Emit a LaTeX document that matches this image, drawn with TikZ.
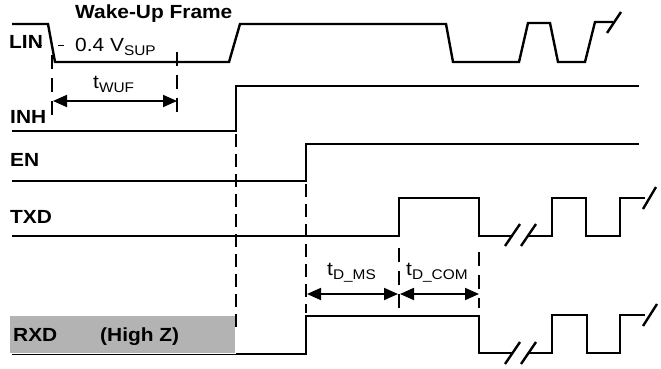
\documentclass[tikz,border=0pt]{standalone}
\usepackage{fontspec}
\setmainfont{Liberation Sans}[FakeStretch=1.1]
\usetikzlibrary{arrows.meta}
\newcommand{\lblfont}{\fontsize{19}{22}\selectfont\bfseries}
\newcommand{\regfont}{\fontsize{19}{22}\selectfont}
\newcommand{\sbs}[1]{\raisebox{-4pt}{\fontsize{14}{14}\selectfont #1}}
\definecolor{hiz}{RGB}{179,179,179}
\tikzset{
 sig/.style={line width=2.4pt, line join=miter},
 guide/.style={line width=1.8pt, dash pattern=on 13pt off 7pt},
 tick/.style={line width=1.8pt, dash pattern=on 14pt off 9pt},
 dim/.style={line width=1.8pt, {Triangle[length=14pt,width=12pt]}-{Triangle[length=14pt,width=12pt]}},
 lab/.style={anchor=base west, inner sep=0pt, font=\lblfont},
 ann/.style={anchor=base west, inner sep=0pt, font=\regfont},
}
\begin{document}
\begin{tikzpicture}[x=1pt,y=-1pt]
\useasboundingbox (0,0) rectangle (661,368);

% RXD high-Z box
\fill[hiz] (10,316) rectangle (235,353);
\draw[line width=0.8pt] (12,354) -- (236,354);

% labels
\node[lab] (title) at (75,18) {Wake-Up Frame};
\node[lab] (lin) at (9,48) {LIN};
\node[lab] (inh) at (10,123) {INH};
\node[lab] (en) at (10,166) {EN};
\node[lab] (txd) at (10,223) {TXD};
\node[lab] (rxd) at (13,341) {RXD};
\node[lab] (hz) at (100,341) {(High Z)};
\node[ann] (thr) at (75,51) {0.4 V\sbs{SUP}};
\node[ann] (twuf) at (93,88) {t\sbs{WUF}};
\node[ann] (tdms) at (327,275) {t\sbs{D\_MS}};
\node[ann] (tdcom) at (406,275) {t\sbs{D\_COM}};

% threshold dashes
\draw[line width=1.5pt, dash pattern=on 6pt off 16pt] (36,45.5) -- (64,45.5);

% LIN
\draw[sig] (12,24) -- (48,24) -- (55,62) -- (229,62) -- (240,24) -- (446,24) -- (453,62)
  -- (519,62) -- (528,23) -- (550,23) -- (558,62) -- (585,62) -- (595,22) -- (613,22);
\draw[sig] (607,33) -- (621,12);

% INH
\draw[sig] (12,131) -- (236,131) -- (236,86) -- (639,86);
% EN
\draw[sig] (12,181) -- (306,181) -- (306,144) -- (639,144);
% TXD
\draw[sig] (12,236) -- (399,236) -- (399,198) -- (479,198) -- (479,236) -- (512,236);
\draw[sig] (505,246) -- (520,224);
\draw[sig] (521,246) -- (536,224);
\draw[sig] (528,236) -- (552,236) -- (552,198) -- (586,198) -- (586,236) -- (620,236)
  -- (620,198) -- (645,198);
\draw[sig] (643,209) -- (656,187);
% RXD
\draw[sig] (236,354) -- (306,354) -- (306,316) -- (479,316) -- (479,353) -- (512,353);
\draw[sig] (505,364) -- (520,342);
\draw[sig] (521,364) -- (536,342);
\draw[sig] (528,353) -- (552,353) -- (552,315) -- (587,315) -- (587,353) -- (620,353)
  -- (620,315) -- (645,315);
\draw[sig] (643,326) -- (657,304);

% guide lines
\coordinate (w1t) at (52,55);  \coordinate (w1b) at (52,115);
\coordinate (w2t) at (177,52); \coordinate (w2b) at (177,115);
\draw[tick] (w1t) -- (w1b);
\draw[tick] (w2t) -- (w2b);
\coordinate (g1t) at (236,134); \coordinate (g1b) at (236,330);
\coordinate (g2t) at (306,184); \coordinate (g2b) at (306,313);
\draw[guide] (g1t) -- (g1b);
\draw[guide] (g2t) -- (g2b);
\coordinate (m1t) at (399,248); \coordinate (m1b) at (399,308);
\coordinate (m2t) at (479,252); \coordinate (m2b) at (479,308);
\draw[tick] (m1t) -- (m1b);
\draw[tick] (m2t) -- (m2b);

% dimension arrows
\coordinate (a1) at (53,101); \coordinate (a2) at (177,101);
\draw[dim] (a1) -- (a2);
\coordinate (b1) at (307,294); \coordinate (b2) at (398,294);
\draw[dim] (b1) -- (b2);
\coordinate (c1) at (400,294); \coordinate (c2) at (479,294);
\draw[dim] (c1) -- (c2);
\end{tikzpicture}
\end{document}
